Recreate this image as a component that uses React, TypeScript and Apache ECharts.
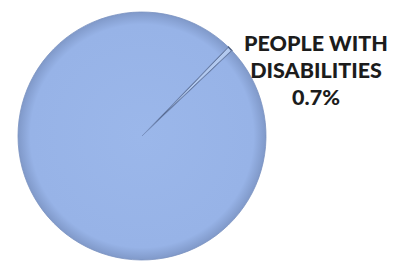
import React, { useEffect, useRef } from "react";
import * as echarts from "echarts";

const categories = ["PEOPLE WITH\nDISABILITIES", "OTHERS"];
const values = [0.7, 99.3];
const labelTexts = ["PEOPLE WITH\nDISABILITIES\n0.7%", ""];

export default function App() {
  const ref = useRef<HTMLDivElement>(null);
  useEffect(() => {
    document.body.style.margin = "0";
    const chart = echarts.init(ref.current!, undefined, { renderer: "svg" });
    const data = categories.map((name, i) => ({
      name,
      value: values[i],
      itemStyle:
        i === 0
          ? { color: "#b3caf0", borderColor: "#4a5c80", borderWidth: 1.5 }
          : {
              color: {
                type: "radial",
                x: 0.5,
                y: 0.5,
                r: 0.5,
                colorStops: [
                  { offset: 0, color: "#9bb7ea" },
                  { offset: 0.9, color: "#97b3e7" },
                  { offset: 1, color: "#8099c9" },
                ],
              },
              borderColor: "#7a92c0",
              borderWidth: 0.8,
            },
      label: i === 0 ? { show: true } : { show: false },
    }));
    chart.setOption({
      animation: false,
      series: [
        {
          type: "pie",
          center: [142, 136],
          radius: [0, 124],
          startAngle: 46,
          clockwise: true,
          data,
          labelLine: { show: false },
          label: {
            position: "outside",
            formatter: (p: any) => labelTexts[p.dataIndex],
            fontFamily: "Lato",
            fontWeight: 900,
            fontSize: 21.5,
            lineHeight: 27,
            color: "#1c1c1c",
            align: "center",
            overflow: "none",
            width: 200,
          },
          labelLayout: (p: any) =>
            p.dataIndex === 0
              ? { x: 316, y: 70, align: "center", verticalAlign: "middle" }
              : {},
          emphasis: { disabled: true },
        },
      ],
    });
    return () => chart.dispose();
  }, []);
  return <div ref={ref} style={{ width: 395, height: 261, background: "#fff" }} />;
}
